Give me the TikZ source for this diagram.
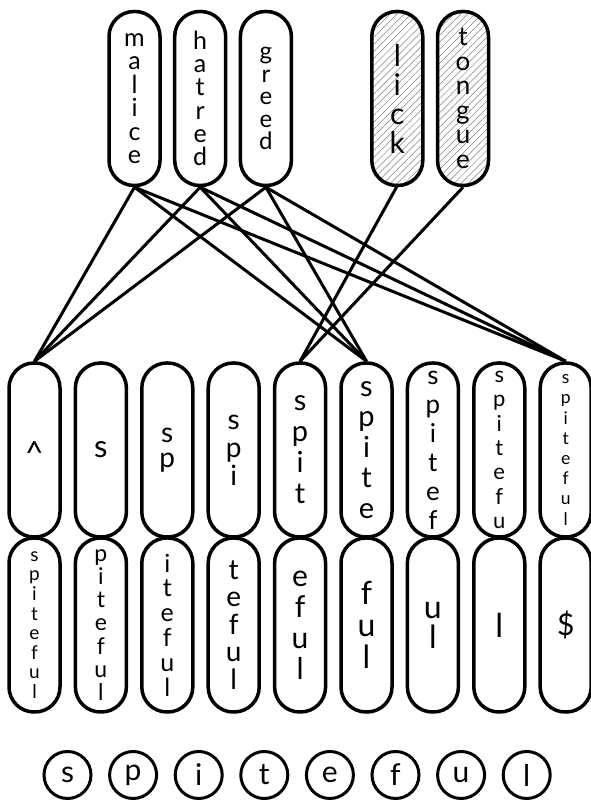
\documentclass[tikz,border=0pt]{standalone}
\usepackage{fontspec}
\setmainfont{Lato}
\usetikzlibrary{patterns.meta}
\def\Top{701.5}
\def\Mid{350}
\def\Low{175}
\def\Row{25}
\def\Gap{66.4}
\newcommand\fs[2]{\fontsize{#1}{#2}\selectfont}

\tikzset{
  pill/.style={draw, line width=3.5pt, rounded corners=25pt, minimum width=51pt,
    minimum height=174pt, inner sep=0pt, align=center},
  hatched/.style={pattern={Lines[angle=45,distance=5pt,line width=0.5pt]}, pattern color=gray},
  edge/.style={line width=3pt},
  letter/.style={draw, circle, line width=3pt, minimum size=47pt, inner sep=0pt,
    font=\fs{30}{30}}
}

\begin{document}
\begin{tikzpicture}[x=1pt,y=1pt]
\useasboundingbox (0,0) rectangle (590,800);

% words on top
\node[pill, font=\fs{25}{23.5}] (malice) at (134.5,\Top) {m\\a\\l\\i\\c\\e};
\node[pill, font=\fs{25}{23.3}] (hatred) at (200.2,\Top) {h\\a\\t\\r\\e\\d};
\node[pill, font=\fs{24}{22.5}] (greed) at (265.9,\Top) {g\\r\\e\\e\\d};
\node[pill, hatched, font=\fs{30}{29}] (lick) at (397.3,\Top) {l\\i\\c\\k};
\node[pill, hatched, font=\fs{26}{24.5}] (tongue) at (463,\Top) {t\\o\\n\\g\\u\\e};

% prefixes
\node[pill, font=\fs{32}{30}] (p0) at (34.5,\Mid) {\smash{\raisebox{-0.45em}{\textasciicircum}}};
\node[pill, font=\fs{31}{28}] (p1) at (34.5+\Gap,\Mid) {s};
\node[pill, font=\fs{28}{25.5}] (p2) at (34.5+2*\Gap,\Mid) {s\\p};
\node[pill, font=\fs{28}{28}] (p3) at (34.5+3*\Gap,\Mid) {s\\p\\i};
\node[pill, font=\fs{29}{31}] (p4) at (34.5+4*\Gap,\Mid) {s\\p\\i\\t};
\node[pill, font=\fs{29}{30.6}] (p5) at (34.5+5*\Gap,\Mid) {s\\p\\i\\t\\e};
\node[pill, font=\fs{26}{29}] (p6) at (34.5+6*\Gap,\Mid) {s\\p\\i\\t\\e\\f};
\node[pill, font=\fs{22}{24.3}] (p7) at (34.5+7*\Gap,\Mid) {s\\p\\i\\t\\e\\f\\u};
\node[pill, font=\fs{17.5}{20.2}] (p8) at (34.5+8*\Gap,\Mid) {s\\p\\i\\t\\e\\f\\u\\l};

% suffixes
\node[pill, font=\fs{19}{19.6}] (s0) at (34.5,\Low) {s\\p\\i\\t\\e\\f\\u\\l};
\node[pill, font=\fs{23}{23.3}] (s1) at (34.5+\Gap,\Low) {p\\i\\t\\e\\f\\u\\l};
\node[pill, font=\fs{25}{24.8}] (s2) at (34.5+2*\Gap,\Low) {i\\t\\e\\f\\u\\l};
\node[pill, font=\fs{28}{27.5}] (s3) at (34.5+3*\Gap,\Low) {t\\e\\f\\u\\l};
\node[pill, font=\fs{30}{31}] (s4) at (34.5+4*\Gap,\Low) {e\\f\\u\\l};
\node[pill, font=\fs{32}{32}] (s5) at (34.5+5*\Gap,\Low) {f\\u\\l};
\node[pill, font=\fs{32}{30}] (s6) at (34.5+6*\Gap,\Low) {u\\l};
\node[pill, font=\fs{33}{30}] (s7) at (34.5+7*\Gap,\Low) {l};
\node[pill, font=\fs{30}{30}] (s8) at (34.5+8*\Gap,\Low) {\$};

% the word itself
\foreach \c [count=\i from 0] in {s,p,i,t,e,f,u,l}
  \node[letter] (c\i) at (67.5+65.6*\i,\Row) {\c};

\draw[edge] (malice.south) -- (p0.north);
\draw[edge] (malice.south) -- (p5.north);
\draw[edge] (malice.south) -- (p8.north);
\draw[edge] (hatred.south) -- (p0.north);
\draw[edge] (hatred.south) -- (p5.north);
\draw[edge] (hatred.south) -- (p8.north);
\draw[edge] (greed.south) -- (p0.north);
\draw[edge] (greed.south) -- (p5.north);
\draw[edge] (greed.south) -- (p8.north);
\draw[edge] (lick.south) -- (p4.north);
\draw[edge] (tongue.south) -- (p4.north);
\end{tikzpicture}
\end{document}
